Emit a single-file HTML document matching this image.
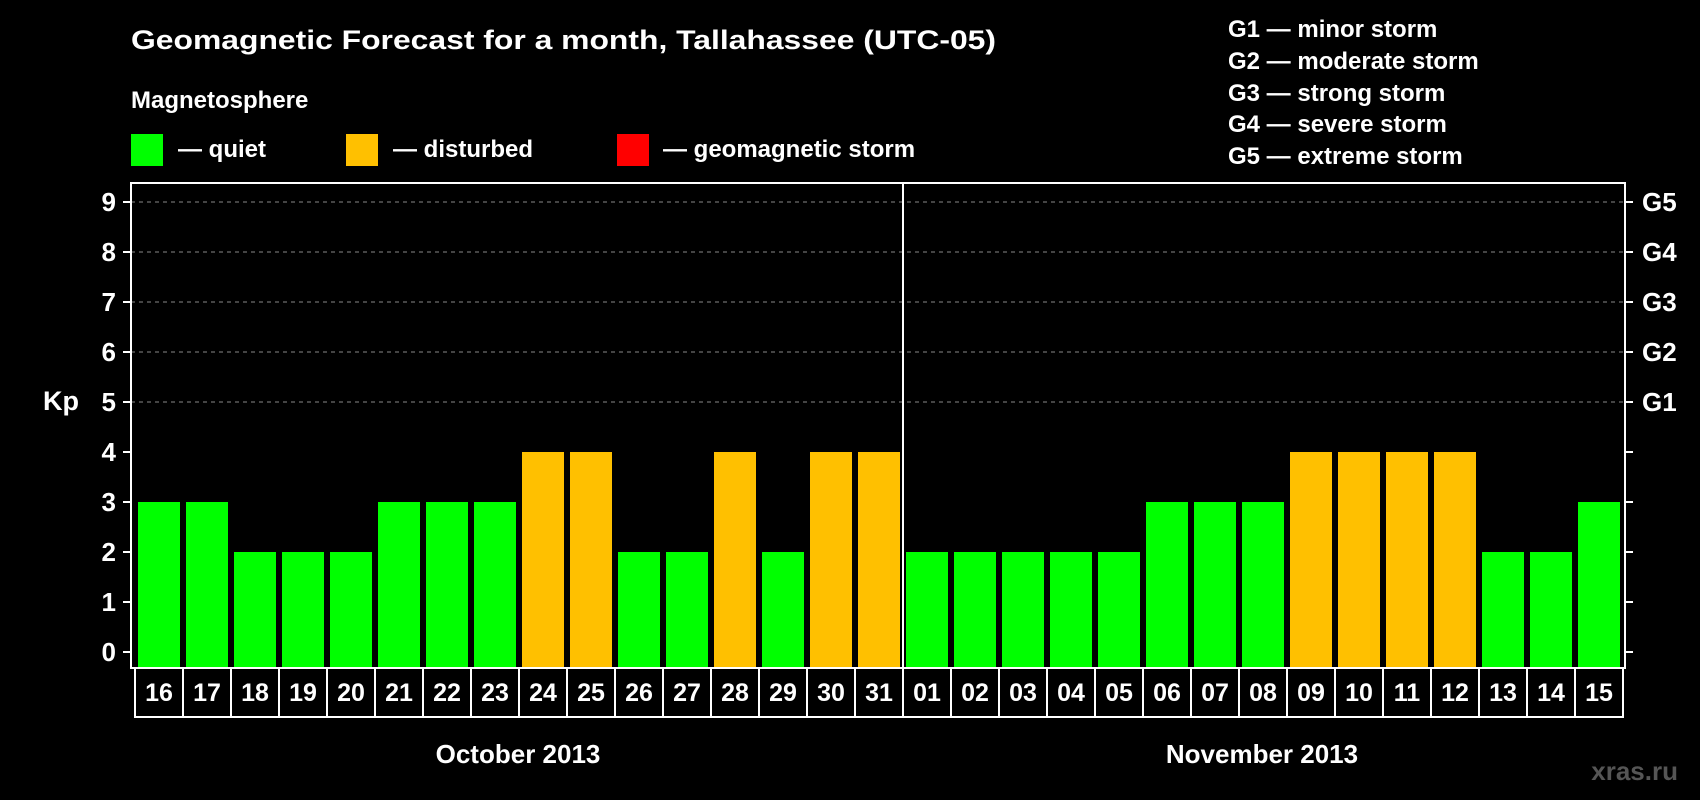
<!DOCTYPE html>
<html><head><meta charset="utf-8"><style>
html,body{margin:0;padding:0;background:#000;width:1700px;height:800px;overflow:hidden}
svg{display:block;font-family:"Liberation Sans",Arial,sans-serif;font-weight:bold}
</style></head><body>
<svg id="c" width="1700" height="800" xmlns="http://www.w3.org/2000/svg">
<text x="131" y="49" fill="#fff" font-size="27" textLength="865" lengthAdjust="spacingAndGlyphs">Geomagnetic Forecast for a month, Tallahassee (UTC-05)</text>
<text x="131" y="108" fill="#fff" font-size="24">Magnetosphere</text>
<g><rect x="131" y="134" width="32" height="32" fill="#00ff00"/><text x="178" y="157" fill="#fff" font-size="24">— quiet</text></g>
<g><rect x="346" y="134" width="32" height="32" fill="#ffc000"/><text x="393" y="157" fill="#fff" font-size="24">— disturbed</text></g>
<g><rect x="617" y="134" width="32" height="32" fill="#ff0000"/><text x="663" y="157" fill="#fff" font-size="24">— geomagnetic storm</text></g>
<g fill="#fff" font-size="24">
<text x="1228" y="37">G1 — minor storm</text>
<text x="1228" y="69">G2 — moderate storm</text>
<text x="1228" y="101">G3 — strong storm</text>
<text x="1228" y="132">G4 — severe storm</text>
<text x="1228" y="164">G5 — extreme storm</text>
</g>
<text x="43" y="410" fill="#fff" font-size="27">Kp</text>
<g id="grid"></g><g id="bars"></g><g id="axes"></g>
<text x="518" y="763" fill="#fff" font-size="26" text-anchor="middle">October 2013</text>
<text x="1262" y="763" fill="#fff" font-size="26" text-anchor="middle">November 2013</text>
<text x="1678" y="780" fill="#555" font-size="26" text-anchor="end">xras.ru</text>
</svg>
<script>
const days = ["16","17","18","19","20","21","22","23","24","25","26","27","28","29","30","31","01","02","03","04","05","06","07","08","09","10","11","12","13","14","15"];
const kpValues = [3,3,2,2,2,3,3,3,4,4,2,2,4,2,4,4,2,2,2,2,2,3,3,3,4,4,4,4,2,2,3];
const yTicks = [0,1,2,3,4,5,6,7,8,9];
const gLabels = ["G1","G2","G3","G4","G5"];
const NS="http://www.w3.org/2000/svg";
const L=131,R=1625,T=183,B=668,Y0=652,UNIT=50,SLOT=48,BX=138,BW=42;
const y=v=>Y0-v*UNIT;
const x=i=>BX+i*SLOT;
function mk(t,a,p){const e=document.createElementNS(NS,t);for(const k in a)e.setAttribute(k,a[k]);p.appendChild(e);return e;}
const grid=document.getElementById('grid'),bars=document.getElementById('bars'),axes=document.getElementById('axes');
yTicks.forEach(v=>{
  if(v>=5){const g=mk('line',{x1:L,x2:R,y1:y(v),y2:y(v),stroke:'#888','stroke-width':1,'stroke-dasharray':'4,4'},grid);
  
  }
  const t1=mk('line',{x1:L-8,x2:L,y1:y(v),y2:y(v),stroke:'#fff','stroke-width':2},axes);
  
  
  const t2=mk('line',{x1:R,x2:R+8,y1:y(v),y2:y(v),stroke:'#fff','stroke-width':2},axes);
  
  
  const lb=mk('text',{x:116,y:y(v)+9,fill:'#fff','font-size':26,'text-anchor':'end'},axes);lb.textContent=v;
  
  
});
gLabels.forEach((g,i)=>{const t=mk('text',{x:R+17,y:y(5+i)+9,fill:'#fff','font-size':26},axes);t.textContent=g;
  
  });
kpValues.forEach((v,i)=>{
  const col=v>=5?'#ff0000':(v>=4?'#ffc000':'#00ff00');
  const b=mk('rect',{x:x(i),y:y(v),width:BW,height:B-y(v)-1,fill:col},bars);
  
  
  const bx=mk('rect',{x:135+i*SLOT,y:B,width:SLOT,height:49,fill:'none',stroke:'#fff','stroke-width':2},axes);
  
  
  const t=mk('text',{x:135+i*SLOT+SLOT/2,y:701,fill:'#fff','font-size':25,'text-anchor':'middle'},axes);t.textContent=days[i];
  
  
});
const fr=mk('path',{d:`M${L} ${B} V${T} H${R} V${B} Z`,fill:'none',stroke:'#fff','stroke-width':2},axes);


const dv=mk('line',{x1:903,x2:903,y1:T,y2:717,stroke:'#fff','stroke-width':2},axes);


</script>
</body></html>
